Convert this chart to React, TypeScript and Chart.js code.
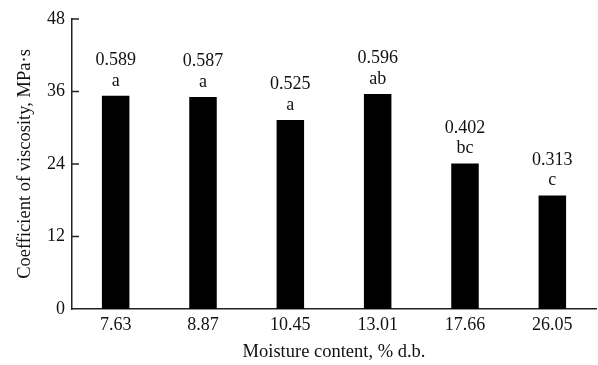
import React, { useEffect, useRef } from "react";
import { Chart, registerables } from "chart.js";

Chart.register(...registerables);

// Moisture content levels (% d.b.) on the x axis
const categories = ["7.63", "8.87", "10.45", "13.01", "17.66", "26.05"];
// Coefficient of viscosity (MPa·s) at each moisture level
const viscosity = [35.3, 35.1, 31.3, 35.6, 24.1, 18.8];
// Standard deviation printed above each bar
const sdLabels = ["0.589", "0.587", "0.525", "0.596", "0.402", "0.313"];
// Significance group letters
const groupLetters = ["a", "a", "a", "ab", "bc", "c"];
// Y axis ticks
const yTicks = [0, 12, 24, 36, 48];

const FONT = "'Liberation Serif', 'Times New Roman', serif";
const INK = "#111";
const AXIS = "#222";

// Value / group annotations above each bar
const barLabels = {
  id: "barLabels",
  afterDatasetsDraw(chart: any) {
    const ctx = chart.ctx;
    const meta = chart.getDatasetMeta(0);
    ctx.save();
    ctx.fillStyle = INK;
    ctx.font = `18px ${FONT}`;
    ctx.textAlign = "center";
    ctx.textBaseline = "alphabetic";
    meta.data.forEach((bar: any, i: number) => {
      ctx.fillText(groupLetters[i], bar.x, bar.y - 10);
      ctx.fillText(sdLabels[i], bar.x, bar.y - 30.5);
    });
    ctx.restore();
  },
};

// Short tick marks pointing into the plot from the y axis
const inwardTicks = {
  id: "inwardTicks",
  afterDraw(chart: any) {
    const ctx = chart.ctx;
    const y = chart.scales.y;
    const left = chart.chartArea.left;
    ctx.save();
    ctx.strokeStyle = AXIS;
    ctx.lineWidth = 1.5;
    ctx.beginPath();
    yTicks.forEach((v) => {
      const py = y.getPixelForValue(v);
      if (v === 0) return;
      ctx.moveTo(left, py);
      ctx.lineTo(left + 7, py);
    });
    ctx.stroke();
    ctx.restore();
  },
};

export default function App() {
  const canvasRef = useRef<HTMLCanvasElement | null>(null);

  useEffect(() => {
    const canvas = canvasRef.current;
    if (!canvas) return;
    const chart = new Chart(canvas, {
      type: "bar",
      data: {
        labels: categories,
        datasets: [
          {
            data: viscosity,
            backgroundColor: "#000",
            borderWidth: 0,
            categoryPercentage: 1,
            barPercentage: 0.315,
          },
        ],
      },
      options: {
        animation: false,
        responsive: false,
        devicePixelRatio: 1,
        layout: { padding: { top: 19, right: 2, left: 0, bottom: 0 } },
        plugins: {
          legend: { display: false },
          tooltip: { enabled: false },
        },
        scales: {
          x: {
            grid: { display: false, drawTicks: false },
            border: { color: AXIS, width: 1.5 },
            ticks: {
              color: INK,
              font: { family: FONT, size: 18 },
              padding: 5,
              maxRotation: 0,
            },
            title: {
              display: true,
              text: "Moisture content, % d.b.",
              color: INK,
              font: { family: FONT, size: 18.5 },
              padding: { top: 0, bottom: 2 },
            },
            afterFit(scale: any) {
              scale.height = 56;
            },
          },
          y: {
            min: 0,
            max: 48,
            afterBuildTicks(scale: any) {
              scale.ticks = yTicks.map((v) => ({ value: v }));
            },
            grid: { display: false, drawTicks: false },
            border: { color: AXIS, width: 1.5 },
            ticks: {
              color: INK,
              font: { family: FONT, size: 18 },
              padding: 7,
            },
            title: {
              display: true,
              text: "Coefficient of viscosity, MPa·s",
              color: INK,
              font: { family: FONT, size: 18.5 },
              padding: { top: 14, bottom: 0 },
            },
            afterFit(scale: any) {
              scale.width = 72;
            },
          },
        },
      },
      plugins: [barLabels, inwardTicks],
    });
    return () => chart.destroy();
  }, []);

  return (
    <div style={{ position: "fixed", left: 0, top: 0, width: 598, height: 365, background: "#fff" }}>
      <canvas ref={canvasRef} width={598} height={365} />
    </div>
  );
}
